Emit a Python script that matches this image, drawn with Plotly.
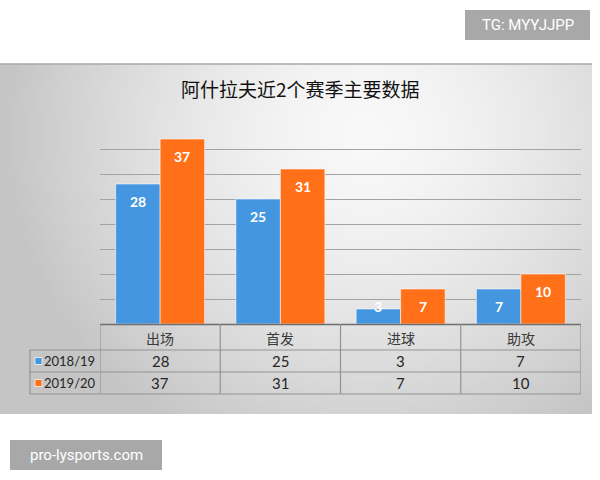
import base64
import struct
import zlib
import plotly.graph_objects as go

# ---------------- data ----------------
title = "阿什拉夫近2个赛季主要数据"
categories = ["出场", "首发", "进球", "助攻"]
series_names = ["2018/19", "2019/20"]
season_2018_19 = [28, 25, 3, 7]
season_2019_20 = [37, 31, 7, 10]
series_values = [season_2018_19, season_2019_20]
series_colors = ["#4596e0", "#ff7019"]

W, H = 600, 480


def px(xp):
    return xp / W


def py(yp):
    return 1 - yp / H


# ---------------- gradient background (generated PNG) ----------------
def make_png(w, h):
    rows = []
    for j in range(h):
        row = bytearray()
        for i in range(w):
            dx = (i / (w - 1) - 0.62) / 0.62
            dy = (j / (h - 1) - 0.2) / 1.0
            r = min(1.0, (dx * dx + dy * dy) ** 0.5)
            c = int(249 - 52 * r ** 1.5)
            row.append(c)
        rows.append(b"\x00" + bytes(row))
    raw = b"".join(rows)

    def chunk(tag, data):
        c = struct.pack(">I", len(data)) + tag + data
        return c + struct.pack(">I", zlib.crc32(tag + data) & 0xFFFFFFFF)

    ihdr = struct.pack(">IIBBBBB", w, h, 8, 0, 0, 0, 0)
    png = b"\x89PNG\r\n\x1a\n" + chunk(b"IHDR", ihdr) + chunk(b"IDAT", zlib.compress(raw, 9)) + chunk(b"IEND", b"")
    return "data:image/png;base64," + base64.b64encode(png).decode()


bg_src = make_png(160, 96)

panel_top, panel_bottom, panel_right = 64, 414, 592
plot_left, plot_right = 100, 581
base_y, top_y = 324, 124
table_left = 30
row_lines = [350, 372, 394]

fig = go.Figure()

bargap = 0.26
for k, (name, vals, col) in enumerate(zip(series_names, series_values, series_colors)):
    fig.add_bar(
        x=list(range(len(categories))),
        y=vals,
        name=name,
        marker=dict(color=col, line=dict(color="rgba(255,255,255,0.55)", width=1)),
        hoverinfo="skip",
        showlegend=False,
    )

offset = (1 - bargap) / 4
annotations = []
for k, vals in enumerate(series_values):
    for i, v in enumerate(vals):
        annotations.append(dict(
            x=i + (-offset if k == 0 else offset), y=v, xref="x", yref="y",
            text=f"<b>{v}</b>", showarrow=False, yanchor="middle",
            yshift=(-17 if v >= 5 else 3),
            font=dict(family="Lato, 'Open Sans', sans-serif", size=14, color="white"),
        ))

# title
annotations.append(dict(
    x=0.5, y=py(88), xref="paper", yref="paper", text=title, showarrow=False,
    font=dict(family="'Noto Sans CJK SC', sans-serif", size=19, color="#111111"),
    xanchor="center", yanchor="middle",
))

# table header and cells
for i, cat in enumerate(categories):
    annotations.append(dict(
        x=i, y=py(337.5), xref="x", yref="paper", text=cat, showarrow=False,
        font=dict(family="'Noto Sans CJK SC', sans-serif", size=14, color="#3a3a3a"),
        yanchor="middle",
    ))
row_centers = [361, 383]
for k, vals in enumerate(series_values):
    for i, v in enumerate(vals):
        annotations.append(dict(
            x=i, y=py(row_centers[k]), xref="x", yref="paper", text=str(v), showarrow=False,
            font=dict(family="Lato, 'Open Sans', sans-serif", size=15, color="#262626"),
            yanchor="middle",
        ))
    annotations.append(dict(
        x=px(44), y=py(row_centers[k]), xref="paper", yref="paper", text=series_names[k],
        showarrow=False, xanchor="left", yanchor="middle", xshift=-2,
        font=dict(family="Lato, 'Open Sans', sans-serif", size=13, color="#262626"),
    ))

# watermark boxes
annotations.append(dict(
    x=px(527.5), y=py(25), xref="paper", yref="paper", text="TG: MYYJJPP", showarrow=False,
    font=dict(family="Roboto, 'Liberation Sans', sans-serif", size=15, color="white"),
    xanchor="center", yanchor="middle",
))
annotations.append(dict(
    x=px(86), y=py(455), xref="paper", yref="paper", text="pro-lysports.com", showarrow=False,
    font=dict(family="Roboto, 'Liberation Sans', sans-serif", size=15, color="white"),
    xanchor="center", yanchor="middle",
))

line_col = "#939393"
shapes = [
    # watermark backgrounds
    dict(type="rect", xref="paper", yref="paper", x0=px(465), x1=px(590), y0=py(10), y1=py(40),
         fillcolor="#a8a8a8", line=dict(width=0), layer="below"),
    dict(type="rect", xref="paper", yref="paper", x0=px(10), x1=px(162), y0=py(440), y1=py(470),
         fillcolor="#a8a8a8", line=dict(width=0), layer="below"),
    # panel top edge
    dict(type="line", xref="paper", yref="paper", x0=0, x1=px(panel_right), y0=py(panel_top), y1=py(panel_top),
         line=dict(color="#a9a9a9", width=1.5)),
    # baseline
    dict(type="line", xref="paper", yref="paper", x0=px(plot_left), x1=px(plot_right), y0=py(base_y + 0.5), y1=py(base_y + 0.5),
         line=dict(color="#6e6e6e", width=1.5)),
]
for yl in row_lines:
    shapes.append(dict(type="line", xref="paper", yref="paper", x0=px(table_left), x1=px(plot_right),
                       y0=py(yl), y1=py(yl), line=dict(color=line_col, width=1.2)))
for i in range(len(categories) + 1):
    shapes.append(dict(type="line", xref="x", yref="paper", x0=i - 0.5, x1=i - 0.5,
                       y0=py(base_y), y1=py(row_lines[-1]), line=dict(color=line_col, width=1.2)))
shapes.append(dict(type="line", xref="paper", yref="paper", x0=px(table_left), x1=px(table_left),
                   y0=py(row_lines[0]), y1=py(row_lines[-1]), line=dict(color=line_col, width=1.2)))
# legend swatches
for k, col in enumerate(series_colors):
    shapes.append(dict(type="rect", xref="paper", yref="paper", x0=px(35), x1=px(42),
                       y0=py(row_centers[k] - 3.5), y1=py(row_centers[k] + 3.5),
                       fillcolor=col, line=dict(color="rgba(255,255,255,0.7)", width=1)))

fig.update_layout(
    width=W, height=H,
    margin=dict(l=0, r=0, t=0, b=0),
    paper_bgcolor="white",
    plot_bgcolor="rgba(0,0,0,0)",
    barmode="group", bargap=bargap, bargroupgap=0,
    xaxis=dict(domain=[px(plot_left), px(plot_right)], range=[-0.5, len(categories) - 0.5],
               showticklabels=False, showgrid=False, zeroline=False, showline=False, fixedrange=True),
    yaxis=dict(domain=[py(base_y), py(top_y)], range=[0, 40], dtick=5,
               showticklabels=False, showgrid=True, gridcolor="#a3a3a3", gridwidth=1,
               zeroline=False, showline=False, fixedrange=True),
    images=[dict(source=bg_src, xref="paper", yref="paper", x=0, y=py(panel_top),
                 sizex=px(panel_right), sizey=(panel_bottom - panel_top) / H,
                 sizing="stretch", layer="below", xanchor="left", yanchor="top")],
    annotations=annotations,
    shapes=shapes,
    showlegend=False,
)

fig.write_html("out.html", config={"displayModeBar": False},
               post_script="document.body.style.margin='0';document.body.style.overflow='hidden';")
